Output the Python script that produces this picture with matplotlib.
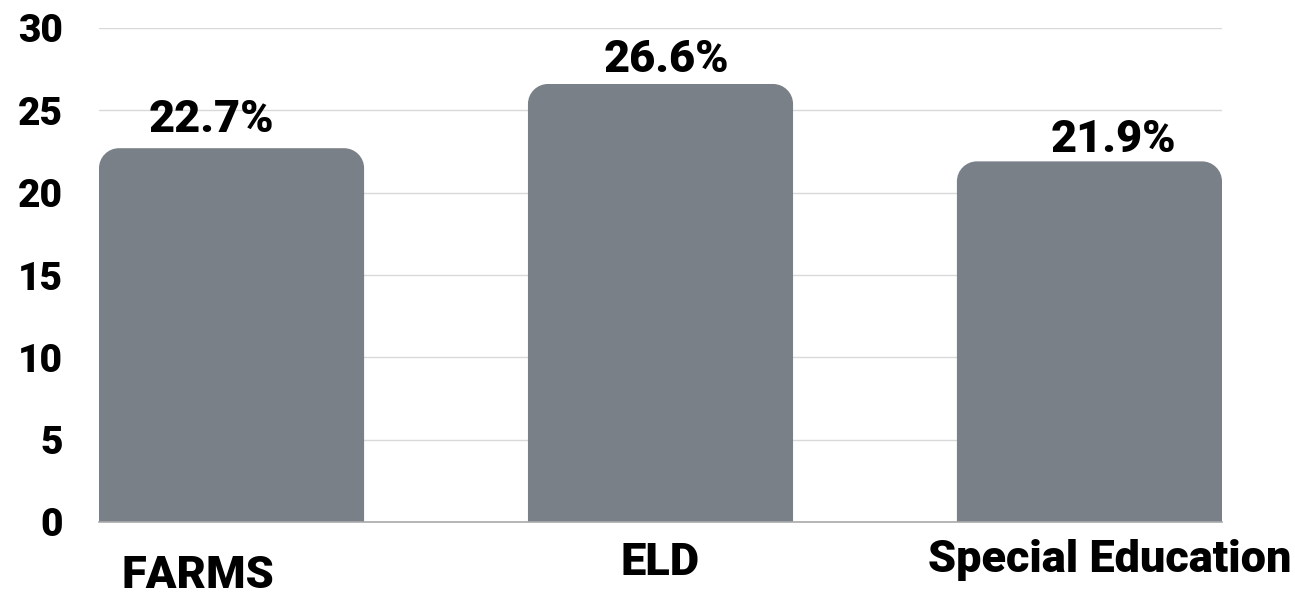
import matplotlib.pyplot as plt
from matplotlib.path import Path
from matplotlib.patches import PathPatch

categories = ['FARMS', 'ELD', 'Special Education']
values = [22.7, 26.6, 21.9]
value_labels = ['22.7%', '26.6%', '21.9%']
y_ticks = [0, 5, 10, 15, 20, 25, 30]

# label nudges in pixels (the original layout is a bit irregular)
val_dx = [-20, 6, 24]
val_dy = [16, 12, 9]
cat_dx = [-34, 0, 20]
cat_dy = [-66, -53, -50]

bar_color = '#7a8087'
font = 'Roboto'

fig = plt.figure(figsize=(12.95, 5.95), dpi=100)
ax = fig.add_axes([99 / 1295, 73 / 595, 1123 / 1295, 494 / 595])

x = list(range(len(categories)))
bars = ax.bar(x, values, width=0.618, color=bar_color)
ax.set_xlim(-0.309, 2.309)
ax.set_ylim(0, 30)

# swap plain bars for rounded-top ones
px_x = 429.0
px_y = 494 / 30.0
r = 20
rx, ry = r / px_x, r / px_y
k = 0.5523
for b in bars:
    x0, w, h = b.get_x(), b.get_width(), b.get_height()
    x1 = x0 + w
    verts = [
        (x0, 0), (x0, h - ry),
        (x0, h - ry + k * ry), (x0 + rx - k * rx, h), (x0 + rx, h),
        (x1 - rx, h),
        (x1 - rx + k * rx, h), (x1, h - ry + k * ry), (x1, h - ry),
        (x1, 0), (x0, 0),
    ]
    codes = [Path.MOVETO, Path.LINETO,
             Path.CURVE4, Path.CURVE4, Path.CURVE4,
             Path.LINETO,
             Path.CURVE4, Path.CURVE4, Path.CURVE4,
             Path.LINETO, Path.CLOSEPOLY]
    ax.add_patch(PathPatch(Path(verts, codes), facecolor=bar_color,
                           edgecolor='none', zorder=3))
    b.set_visible(False)

for i, v in enumerate(values):
    ax.annotate(value_labels[i], (x[i], v),
                xytext=(val_dx[i] * 0.72, val_dy[i] * 0.72),
                textcoords='offset points', ha='center', va='baseline',
                fontsize=32.5, fontweight='heavy', family=font, color='black',
                zorder=4)

for i, c in enumerate(categories):
    ax.annotate(c, (x[i], 0),
                xytext=(cat_dx[i] * 0.72, cat_dy[i] * 0.72),
                textcoords='offset points', ha='center', va='baseline',
                fontsize=32.5, fontweight='heavy', family=font, color='black',
                annotation_clip=False)

ax.set_xticks([])
ax.set_yticks(y_ticks)
ax.set_yticklabels([str(t) for t in y_ticks], fontsize=28,
                   fontweight='heavy', family=font)
ax.tick_params(axis='y', length=0, pad=26)
ax.yaxis.grid(True, color='#d9d9d9', linewidth=1)
ax.set_axisbelow(True)
for s in ['top', 'right', 'left']:
    ax.spines[s].set_visible(False)
ax.spines['bottom'].set_color('#aaaaaa')
ax.spines['bottom'].set_linewidth(1.2)
ax.spines['bottom'].set_zorder(5)

fig.savefig('out.png', dpi=100)
